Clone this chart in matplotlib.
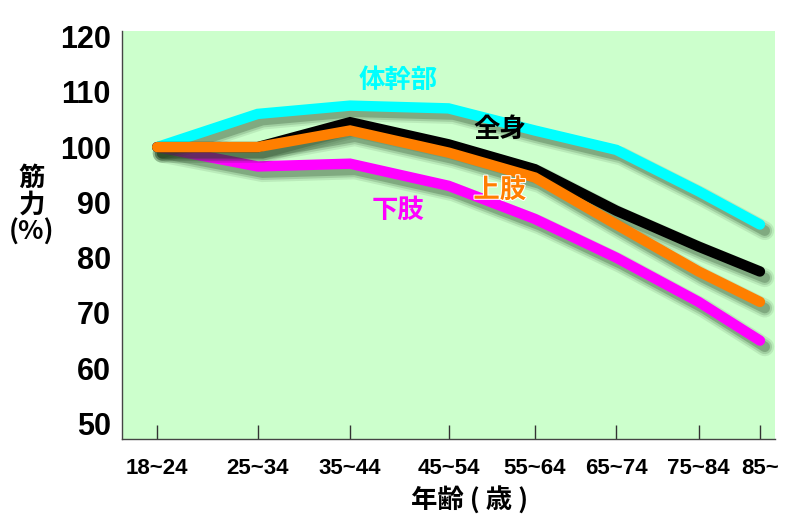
import matplotlib
matplotlib.use('Agg')
import matplotlib.pyplot as plt
import matplotlib.patheffects as pe

# age groups and relative strength (%)
ages = ['18~24', '25~34', '35~44', '45~54', '55~64', '65~74', '75~84', '85~']
trunk = [100, 106, 107.5, 107, 103, 99.5, 92, 86]        # 体幹部
whole = [100, 100, 104.5, 100.5, 96, 88.5, 82, 77.5]     # 全身
upper = [100, 100, 103, 99, 94.5, 86, 77.5, 72]          # 上肢
lower = [100, 96.5, 97, 93, 87, 80, 72, 65]              # 下肢
yticks = [50, 60, 70, 80, 90, 100, 110, 120]

# the age groups are not evenly spaced in the original
slot = [0, 1.0, 1.92, 2.9, 3.76, 4.57, 5.39, 6.0]

jp = 'Noto Sans CJK JP'

fig = plt.figure(figsize=(7.93, 5.19), dpi=100)
ax = fig.add_axes([0.1539, 0.1541, 0.8234, 0.7862])
ax.set_facecolor('#ccffcc')


def shadow(lw):
    effects = []
    for extra, a in [(6, 0.10), (3, 0.16), (0, 0.25)]:
        effects.append(pe.SimpleLineShadow(offset=(3.5, -4.5), shadow_color='#1f3f1f',
                                           alpha=a, linewidth=lw + extra))
    effects.append(pe.Normal())
    return effects


lw = 7.5
for vals, col in [(lower, '#ff00ff'), (trunk, '#00ffff'), (whole, '#000000'), (upper, '#ff7f00')]:
    ax.plot(slot, vals, color=col, lw=lw, solid_capstyle='round',
            solid_joinstyle='miter', path_effects=shadow(lw))

ax.text(2.40, 112.1, '体幹部', color='#00ffff', fontsize=19, fontweight='bold',
        family=jp, ha='center', va='center')
ax.text(3.41, 103.1, '全身', color='black', fontsize=19, fontweight='bold',
        family=jp, ha='center', va='center')
ax.text(3.41, 92.2, '上肢', color='#ff7f00', fontsize=19, fontweight='bold',
        family=jp, ha='center', va='center',
        path_effects=[pe.withStroke(linewidth=1.5, foreground='white')])
ax.text(2.40, 88.6, '下肢', color='#ff00ff', fontsize=19, fontweight='bold',
        family=jp, ha='center', va='center')

ax.set_xlim(-0.35, 6.15)
ax.set_ylim(47.2, 121)
ax.set_xticks(slot)
ax.set_xticklabels(ages, family='Liberation Sans', fontsize=16, fontweight='bold')
ax.set_yticks(yticks)
ax.set_yticklabels([str(v) for v in yticks], family='Liberation Sans',
                   fontsize=22, fontweight='bold')
ax.tick_params(axis='x', direction='in', length=10, width=1, color='#333333', pad=14)
ax.tick_params(axis='y', length=0, pad=8)

for s in ['top', 'right']:
    ax.spines[s].set_visible(False)
for s in ['left', 'bottom']:
    ax.spines[s].set_color('#444444')
    ax.spines[s].set_linewidth(1)

fig.text(0.5927, 0.036, '年齢 ( 歳 )', family=jp, fontsize=19, fontweight='bold',
         ha='center', va='center')
fig.text(0.040, 0.605, '筋\n力\n(%)', family=jp, fontsize=19, fontweight='bold',
         ha='center', va='center', linespacing=1.0)

fig.savefig('out.png', dpi=100)
